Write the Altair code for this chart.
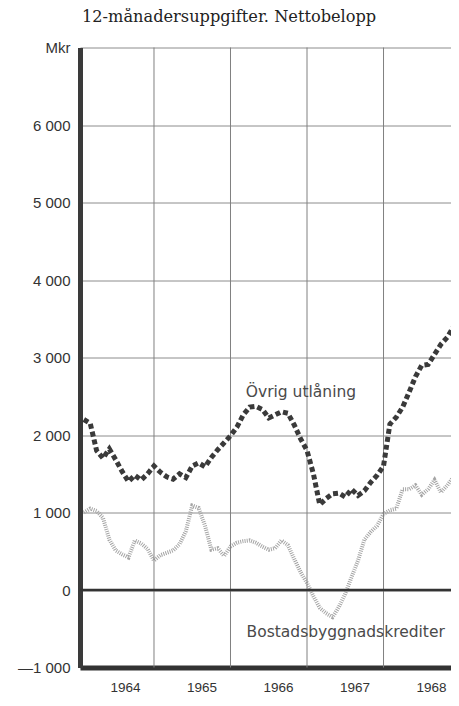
import altair as alt
import pandas as pd

# Monthly observations, Feb 1964 .. Dec 1968 (index 1 = Feb 1964)
month_index = list(range(1, 60))

ovrig = [2200, 2150, 1800, 1700, 1820, 1680, 1530, 1400, 1480, 1420,
         1500, 1600, 1520, 1460, 1430, 1500, 1450, 1600, 1640, 1590,
         1710, 1810, 1900, 1990, 2100, 2260, 2360, 2370, 2330, 2220,
         2260, 2300, 2280, 2130, 1950, 1800, 1500, 1100, 1180, 1240,
         1250, 1200, 1300, 1220, 1280, 1390, 1480, 1600, 2140, 2230,
         2360, 2550, 2750, 2900, 2910, 3040, 3170, 3260, 3400]

bostad = [1000, 1050, 1020, 930, 650, 510, 460, 420, 640, 600,
          530, 380, 450, 480, 510, 590, 760, 1090, 1060, 830,
          520, 540, 440, 560, 610, 630, 640, 610, 560, 520,
          540, 640, 580, 400, 230, 90, -80, -230, -300, -350,
          -220, -50, 170, 380, 650, 750, 830, 980, 1030, 1050,
          1300, 1300, 1350, 1230, 1300, 1420, 1260, 1350, 1460]

year_lines = [1965, 1966, 1967, 1968]
year_label_pos = [1964.62, 1965.62, 1966.62, 1967.62, 1968.62]
y_ticks = [-1000, 0, 1000, 2000, 3000, 4000, 5000, 6000, 7000]

title_text = "12-månadersuppgifter. Nettobelopp"
series_labels = ["Övrig utlåning", "Bostadsbyggnadskrediter"]
label_x = [1966.20, 1966.21]
label_y = [2560, -540]

W, H = 371, 620

t = [1964 + m / 12 for m in month_index]
df_o = pd.DataFrame({"t": t, "v": ovrig})
df_b = pd.DataFrame({"t": t, "v": bostad})
df_grid = pd.DataFrame({"t": year_lines})
df_lab = pd.DataFrame({"t": label_x, "v": label_y, "txt": series_labels})

xs = alt.Scale(domain=[1964.033, 1968.882], nice=False, zero=False)
ys = alt.Scale(domain=[-1000, 7000], nice=False, zero=False)

y_label_expr = ("datum.value == 7000 ? 'Mkr' : datum.value == -1000 ? '\u20141 000' : "
                "datum.value == 0 ? '0' : replace(format(datum.value, ','), ',', ' ')")

base_x = alt.X("t:Q", scale=xs, axis=alt.Axis(
    values=year_label_pos, labelExpr="floor(datum.value)", grid=False, ticks=False,
    domain=True, domainColor="#333333", domainWidth=5, labelPadding=13,
    labelFont="Liberation Sans", labelFontSize=13.5, labelColor="#333333", title=None))
base_y = alt.Y("v:Q", scale=ys, axis=alt.Axis(
    values=y_ticks, labelExpr=y_label_expr, grid=True, gridColor="#8c8c8c",
    gridWidth=1, ticks=False, domain=True, domainColor="#3a3a3a", domainWidth=5,
    labelPadding=10, labelFont="Liberation Sans", labelFontSize=15,
    labelColor="#333333", title=None))

vgrid = alt.Chart(df_grid).mark_rule(color="#808080", strokeWidth=1).encode(
    x=alt.X("t:Q", scale=xs))

zero = alt.Chart(pd.DataFrame({"v": [0]})).mark_rule(color="#333333", strokeWidth=2.5).encode(
    y=alt.Y("v:Q", scale=ys), x=alt.value(0), x2=alt.value(W))

line_b = alt.Chart(df_b).mark_line(color="#a5a5a5", strokeWidth=4, clip=True,
                                    strokeDash=[1, 1.2], strokeCap="butt").encode(
    x=base_x, y=base_y)

line_o = alt.Chart(df_o).mark_line(color="#3a3a3a", strokeWidth=5, clip=True,
                                    strokeDash=[5, 3], strokeCap="butt").encode(
    x=alt.X("t:Q", scale=xs), y=alt.Y("v:Q", scale=ys))

labels = alt.Chart(df_lab).mark_text(align="left", baseline="middle",
                                     font="DejaVu Sans", fontSize=15.5,
                                     color="#4a4a4a").encode(
    x=alt.X("t:Q", scale=xs), y=alt.Y("v:Q", scale=ys), text="txt:N")

title = alt.Chart(pd.DataFrame({"txt": [title_text]})).mark_text(
    align="left", baseline="alphabetic", font="DejaVu Serif", fontSize=16.2,
    color="#222222").encode(x=alt.value(2), y=alt.value(-25.5), text="txt:N")

chart = alt.layer(line_b, vgrid, zero, line_o, labels, title).properties(
    width=W, height=H,
    autosize=alt.AutoSizeParams(type="none"),
    padding={"left": 72, "top": 39.5, "right": 0, "bottom": 30},
).configure_view(strokeWidth=0)

chart.save("out.html", embed_options={"renderer": "svg", "actions": False})
